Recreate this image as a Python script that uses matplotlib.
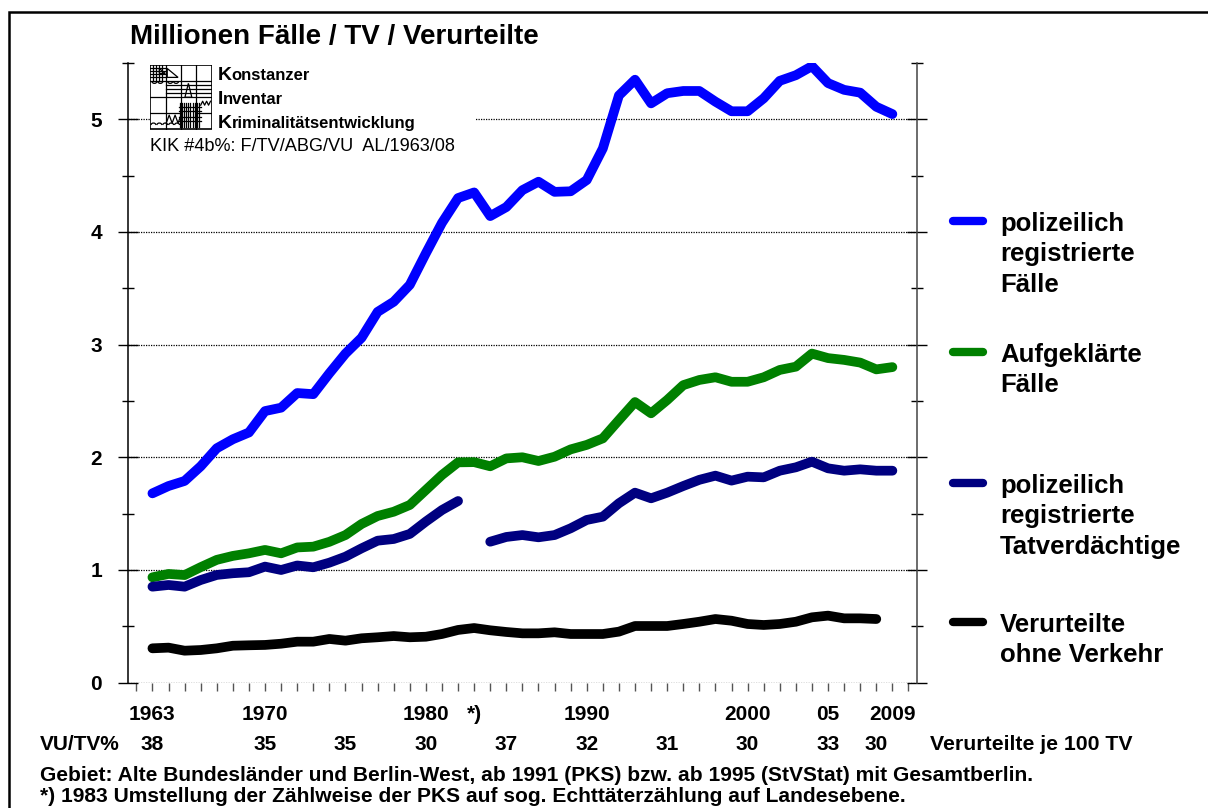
import numpy as np
import matplotlib
matplotlib.use("Agg")
import matplotlib.pyplot as plt
from matplotlib.patches import Rectangle, Polygon, Arc
from matplotlib.lines import Line2D
import matplotlib.transforms as mtransforms

plt.rcParams['font.family'] = ['Liberation Sans', 'DejaVu Sans']

# ---------------- data ----------------
years = list(range(1963, 2010))
faelle = [1.68, 1.745, 1.79, 1.92, 2.08, 2.16, 2.22, 2.41, 2.44, 2.57,
          2.56, 2.745, 2.92, 3.06, 3.29, 3.38, 3.53, 3.81, 4.08, 4.30,
          4.35, 4.14, 4.22, 4.37, 4.445, 4.355, 4.36, 4.46, 4.74, 5.21,
          5.35, 5.14, 5.23, 5.25, 5.25, 5.155, 5.07, 5.07, 5.185, 5.34,
          5.39, 5.47, 5.32, 5.26, 5.235, 5.11, 5.045]
aufgeklaert = [0.935, 0.965, 0.955, 1.025, 1.09, 1.125, 1.148, 1.178, 1.148, 1.20,
               1.207, 1.25, 1.31, 1.408, 1.479, 1.517, 1.577, 1.71, 1.843, 1.955,
               1.957, 1.92, 1.99, 2.0, 1.967, 2.005, 2.07, 2.11, 2.168, 2.33,
               2.49, 2.39, 2.508, 2.64, 2.686, 2.71, 2.67, 2.67, 2.71, 2.775,
               2.804, 2.92, 2.88, 2.864, 2.84, 2.78, 2.80]
tatverdaechtige = [0.852, 0.867, 0.852, 0.911, 0.956, 0.971, 0.98, 1.03, 1.0, 1.04,
                   1.024, 1.065, 1.118, 1.192, 1.26, 1.275, 1.32, 1.43, 1.532, 1.612,
                   np.nan, 1.251, 1.293, 1.31, 1.29, 1.31, 1.37, 1.444, 1.473, 1.592,
                   1.686, 1.636, 1.686, 1.745, 1.80, 1.837, 1.793, 1.828, 1.822, 1.881,
                   1.911, 1.961, 1.902, 1.881, 1.893, 1.881, 1.881]
verurteilte_years = list(range(1963, 2009))
verurteilte = [0.305, 0.311, 0.284, 0.29, 0.305, 0.328, 0.332, 0.335, 0.346, 0.364,
               0.364, 0.388, 0.373, 0.394, 0.403, 0.414, 0.403, 0.408, 0.432, 0.468,
               0.485, 0.465, 0.45, 0.438, 0.438, 0.447, 0.432, 0.432, 0.432, 0.453,
               0.503, 0.503, 0.503, 0.521, 0.541, 0.565, 0.55, 0.521, 0.512, 0.521,
               0.541, 0.58, 0.595, 0.571, 0.571, 0.565]

series_labels = ["polizeilich\nregistrierte\nFälle",
                 "Aufgeklärte\nFälle",
                 "polizeilich\nregistrierte\nTatverdächtige",
                 "Verurteilte\nohne Verkehr"]
series_colors = ["#0000FF", "#008000", "#000080", "#000000"]

year_label_pos = [1963, 1970, 1980, 1983, 1990, 2000, 2005, 2009]
year_labels = ["1963", "1970", "1980", "*)", "1990", "2000", "05", "2009"]
ratio_pos = [1963, 1970, 1975, 1980, 1985, 1990, 1995, 2000, 2005, 2008]
ratio_values = [38, 35, 35, 30, 37, 32, 31, 30, 33, 30]
y_ticks = [0, 1, 2, 3, 4, 5]

title = "Millionen Fälle / TV / Verurteilte"
logo_words = [("K", "onstanzer"), ("I", "nventar"), ("K", "riminalitätsentwicklung")]
kik_text = "KIK #4b%: F/TV/ABG/VU  AL/1963/08"
ratio_title = "VU/TV%"
ratio_caption = "Verurteilte je 100 TV"
notes = ["Gebiet: Alte Bundesländer und Berlin-West, ab 1991 (PKS) bzw. ab 1995 (StVStat) mit Gesamtberlin.",
         "*) 1983 Umstellung der Zählweise der PKS auf sog. Echttäterzählung auf Landesebene."]

# ---------------- figure ----------------
W, H = 1208, 808
fig = plt.figure(figsize=(W / 100, H / 100), dpi=100)
fig.patch.set_facecolor("white")


def P(x, y):
    return (x / W, 1 - y / H)


ax_l, ax_r, ax_t, ax_b = 128.3, 916.5, 62.8, 682.7
ax = fig.add_axes([ax_l / W, 1 - ax_b / H, (ax_r - ax_l) / W, (ax_b - ax_t) / H])
ax.set_xlim(1961.5, 2010.5)
ax.set_ylim(0, 5.5)

lw = 7.0
series = [(years, faelle), (years, aufgeklaert), (years, tatverdaechtige),
          (verurteilte_years, verurteilte)]
for (xs, ys), c in zip(series, series_colors):
    ax.plot(xs, ys, color=c, lw=lw, solid_capstyle="round",
            solid_joinstyle="round", zorder=3)

ax.set_yticks(y_ticks)
ax.set_yticks(np.arange(0.5, 5.51, 1.0), minor=True)
ax.set_yticklabels([str(v) for v in y_ticks], fontsize=15, fontweight="bold")
ax.set_xticks(np.arange(1962, 2011, 1))
ax.set_xticklabels([])
ax.tick_params(axis="y", which="major", direction="inout", length=14, width=1,
               left=True, right=True, pad=12)
ax.tick_params(axis="y", which="minor", direction="inout", length=9, width=1,
               left=True, right=True)
ax.tick_params(axis="x", which="major", direction="out", length=6, width=1,
               color="#555555", bottom=True, top=False)
ax.grid(axis="y", which="major", linestyle=(0, (1, 1)), color="black", lw=0.9, zorder=1)
ax.set_axisbelow(True)
for s in ["top", "bottom"]:
    ax.spines[s].set_visible(False)
ax.spines["left"].set_color("black")
ax.spines["right"].set_color("#444444")
ax.spines["left"].set_linewidth(1.1)
ax.spines["right"].set_linewidth(1.1)

# x labels (two rows) placed at data x, figure y
tr = mtransforms.blended_transform_factory(ax.transData, fig.transFigure)
for x, s in zip(year_label_pos, year_labels):
    ax.text(x, 1 - 720.3 / H, s, transform=tr, ha="center", va="baseline",
            fontsize=15, fontweight="bold", clip_on=False)
for x, v in zip(ratio_pos, ratio_values):
    ax.text(x, 1 - 749.7 / H, str(v), transform=tr, ha="center", va="baseline",
            fontsize=15, fontweight="bold", clip_on=False)
fig.text(*P(40, 749.7), ratio_title, ha="left", va="baseline", fontsize=15, fontweight="bold")
fig.text(*P(930, 749.7), ratio_caption, ha="left", va="baseline", fontsize=15.3, fontweight="bold")

# notes
fig.text(*P(40, 781.3), notes[0], ha="left", va="baseline", fontsize=15.1, fontweight="bold")
fig.text(*P(40, 802.0), notes[1], ha="left", va="baseline", fontsize=15.1, fontweight="bold")

# title
fig.text(*P(130, 44), title, ha="left", va="baseline", fontsize=20, fontweight="bold")

# legend
leg_baselines = [231, 361.7, 492.7, 631.7]
for lab, c, b in zip(series_labels, series_colors, leg_baselines):
    fig.add_artist(Line2D([953 / W, 983 / W], [1 - (b - 10) / H] * 2, color=c, lw=6,
                          solid_capstyle="round"))
    for i, line in enumerate(lab.split("\n")):
        fig.text(*P(1000, b + i * 30.5), line, ha="left", va="baseline",
                 fontsize=18.5, fontweight="bold")

# white backing for logo block (hides grid line at 5)
fig.add_artist(Rectangle(P(150, 136), (476 - 150) / W, (136 - 62) / H,
                         transform=fig.transFigure, facecolor="white",
                         edgecolor="none", zorder=2))

# logo words
renderer = fig.canvas.get_renderer()
for (first, rest), b in zip(logo_words, [80, 104.3, 128.3]):
    t1 = fig.text(*P(217.7, b), first, ha="left", va="baseline", fontsize=14,
                  fontweight="bold", zorder=4)
    bb = t1.get_window_extent(renderer=renderer)
    fig.text(bb.x1 / W, 1 - b / H, rest, ha="left", va="baseline", fontsize=12,
             fontweight="bold", zorder=4)
fig.text(*P(150, 150.7), kik_text, ha="left", va="baseline", fontsize=13.1, zorder=4)

# logo drawing
lax = fig.add_axes([150 / W, 1 - 129.5 / H, 62 / W, 64.5 / H], zorder=5)
lax.set_xlim(-0.5, 62.5)
lax.set_ylim(64.5, -0.5)
lax.axis("off")
k = dict(color="black", lw=0.9)
lax.add_patch(Rectangle((0, 0), 62, 64, fill=False, edgecolor="black", lw=1.2))
for xv in [15.5, 31, 46]:
    lax.plot([xv, xv], [0, 64], **k)
for yv in [16, 32]:
    lax.plot([0, 62], [yv, yv], **k)
lax.plot([0, 31], [48, 48], **k)
lax.plot([46, 62], [48, 48], **k)
for yv in [3, 6, 9, 12]:
    lax.plot([0, 15.5], [yv, yv], **k)
for xv in [3, 6, 9, 12]:
    lax.plot([xv, xv], [0, 16], **k)
lax.add_patch(Polygon([[17, 3], [28, 12], [17, 12]], closed=True, fill=False, edgecolor="black", lw=0.9))
lax.add_patch(Polygon([[9, 3], [15, 8], [9, 8]], closed=True, fill=False, edgecolor="black", lw=0.9))
for yv in [20, 24, 28]:
    lax.plot([15.5, 62], [yv, yv], **k)
lax.add_patch(Polygon([[38.5, 18], [35, 32], [42, 32]], closed=True, fill=False, edgecolor="black", lw=0.9))
for xv in np.arange(29.5, 51, 2.2):
    lax.plot([xv, xv], [38, 62], **k)
for yv in [42, 46, 52, 56]:
    lax.plot([29, 51], [yv, yv], **k)
lax.plot([51, 53, 55, 57, 59, 61], [40, 36, 40, 36, 40, 36], **k)
lax.plot([16, 19, 22, 25, 28, 31], [58, 50, 58, 50, 58, 50], **k)
for xc in [3, 9, 15, 21, 27]:
    lax.add_patch(Arc((xc, 60), 5, 4, theta1=180, theta2=360, color="black", lw=0.9))
for xc in [4, 10, 20, 26]:
    lax.add_patch(Arc((xc, 16), 5, 4, theta1=0, theta2=180, color="black", lw=0.9))

# outer frame
fig.add_artist(Rectangle(P(9, 830), 1.2, (830 - 12) / H, transform=fig.transFigure,
                         fill=False, edgecolor="black", lw=1.8, zorder=6))

fig.savefig("out.png", dpi=100, facecolor="white")
